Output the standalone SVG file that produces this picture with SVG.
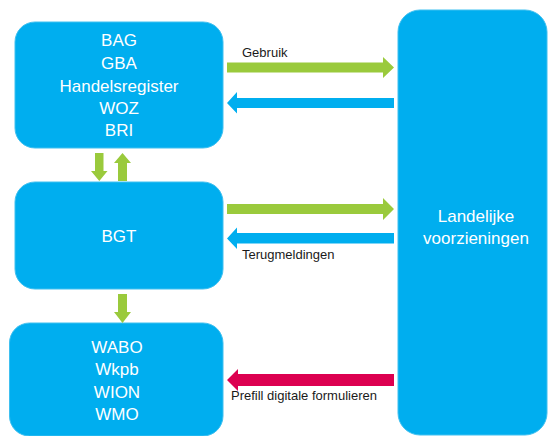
<svg xmlns="http://www.w3.org/2000/svg" width="551" height="436" viewBox="0 0 551 436">
<style>
.box{fill:#00AEEF;stroke:#3FC0F0;stroke-width:1}
.t{font-family:"Liberation Sans",Arial,sans-serif;font-size:17px;fill:#ffffff;text-anchor:middle}
.lbl{font-family:"Liberation Sans",Arial,sans-serif;font-size:13px;fill:#1a1a1a}
.g{fill:#9ACA3C}
.b{fill:#00AEEF}
.r{fill:#DC0050}
</style>
<rect width="551" height="436" fill="#ffffff"/>
<g id="bronnen">
<rect class="box" x="15" y="22" width="208" height="126" rx="20"/>
<text class="t" x="119" y="46">BAG</text>
<text class="t" x="119" y="69">GBA</text>
<text class="t" x="119" y="92">Handelsregister</text>
<text class="t" x="119" y="114">WOZ</text>
<text class="t" x="119" y="136">BRI</text>
</g>
<g id="bgt">
<rect class="box" x="15" y="182" width="208" height="107" rx="20"/>
<text class="t" x="119" y="242">BGT</text>
</g>
<g id="wetten">
<rect class="box" x="9.5" y="323" width="213.5" height="113" rx="20"/>
<text class="t" x="117" y="353">WABO</text>
<text class="t" x="117" y="375">Wkpb</text>
<text class="t" x="117" y="398">WION</text>
<text class="t" x="117" y="420">WMO</text>
</g>
<g id="landelijk">
<rect class="box" x="398" y="10" width="149" height="425" rx="22"/>
<text class="t" x="476" y="222">Landelijke</text>
<text class="t" x="476" y="244">voorzieningen</text>
</g>
<g id="connectors">
<polygon class="g" points="227,62.5 383,62.5 383,57 394,67.5 383,78 383,72.5 227,72.5"/>
<polygon class="b" points="394,98 237,98 237,92 227,103 237,113.5 237,108 394,108"/>
<polygon class="g" points="227,204 383,204 383,198 394,209 383,220 383,214 227,214"/>
<polygon class="b" points="394,233 237,233 237,227.5 227,238.5 237,249 237,243.5 394,243.5"/>
<polygon class="r" points="394,374 238,374 238,369 227,380 238,391 238,386 394,386"/>
<polygon class="g" points="95,153 103.5,153 103.5,171 107.5,171 99.3,181 91,171 95,171"/>
<polygon class="g" points="118,181 127,181 127,163 131,163 122.5,153 114,163 118,163"/>
<polygon class="g" points="118,294 127,294 127,312 131,312 122.5,323 114,312 118,312"/>
<text class="lbl" x="242" y="57">Gebruik</text>
<text class="lbl" x="242" y="259">Terugmeldingen</text>
<text class="lbl" x="231" y="400">Prefill digitale formulieren</text>
</g>
</svg>
